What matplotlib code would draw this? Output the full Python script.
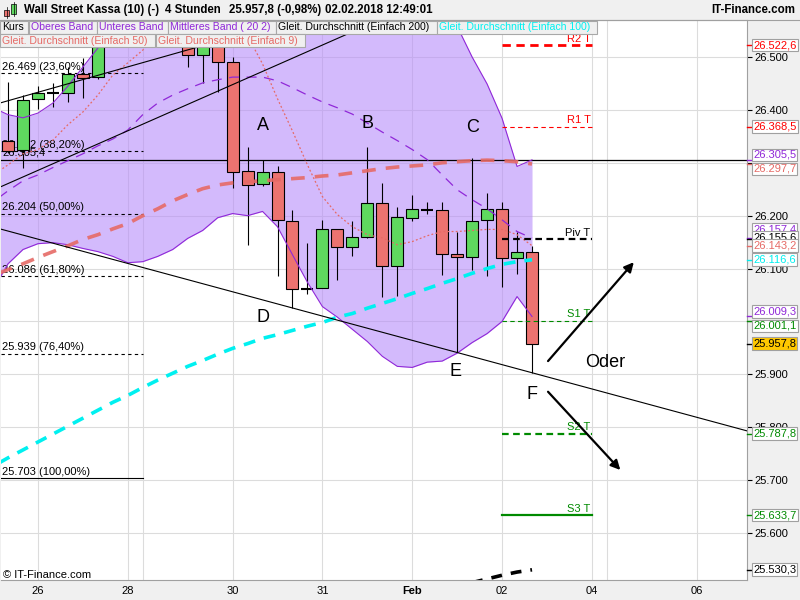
import matplotlib.pyplot as plt
from matplotlib.patches import Rectangle
from matplotlib.lines import Line2D
from matplotlib.transforms import blended_transform_factory

plt.rcParams['font.family'] = ['Liberation Sans', 'DejaVu Sans']

# 4h candles, slot 0 = first candle of Fri 26 Jan (6 slots per day)
slots = list(range(-2, 34))
opens = [26342, 26325, 26421, 26432, 26432, 26468, 26462, 26545, 26575, 26605,
         26630, 26615, 26585, 26504, 26535, 26491, 26285, 26260, 26283, 26189,
         26062, 26064, 26174, 26140, 26160, 26223, 26104, 26196, 26211, 26211,
         26128, 26121, 26192, 26213, 26119, 26132]
highs = [26453, 26428, 26445, 26451, 26481, 26498, 26560, 26590, 26620, 26650,
         26660, 26635, 26600, 26560, 26550, 26500, 26330, 26306, 26294, 26211,
         26149, 26191, 26175, 26189, 26330, 26262, 26217, 26240, 26226, 26225,
         26170, 26309, 26243, 26225, 26170, 26142]
lows = [26318, 26291, 26402, 26406, 26415, 26423, 26458, 26528, 26560, 26585,
        26600, 26570, 26481, 26451, 26434, 26253, 26145, 26256, 26085, 26026,
        26051, 26064, 26079, 26123, 26158, 26047, 26049, 26189, 26204, 26087,
        25942, 26098, 26085, 26066, 26089, 25902]
closes = [26323, 26419, 26432, 26432, 26468, 26460, 26545, 26575, 26605, 26630,
          26615, 26585, 26504, 26535, 26491, 26283, 26258, 26283, 26191, 26062,
          26062, 26175, 26140, 26160, 26223, 26104, 26198, 26213, 26211, 26128,
          26121, 26189, 26213, 26119, 26132, 25957.8]

ind_slots = list(range(-3, 34))
boll_upper = [26404, 26391, 26385, 26394, 26413, 26445, 26481, 26517, 26551, 26613,
              26669, 26703, 26720, 26723, 26730, 26718, 26720, 26724, 26716, 26731,
              26758, 26782, 26802, 26800, 26799, 26788, 26782, 26769, 26737, 26689,
              26629, 26558, 26500, 26449, 26384, 26293, 26305.5]
boll_mid = [26226, 26247, 26266, 26277, 26291, 26304, 26317, 26332, 26345, 26362,
            26391, 26413, 26428, 26440, 26451, 26457, 26462, 26462, 26462, 26455,
            26442, 26428, 26415, 26404, 26392, 26375, 26358, 26342, 26325, 26306,
            26277, 26249, 26230, 26213, 26192, 26170, 26157.4]
boll_lower = [26060, 26109, 26136, 26147, 26149, 26145, 26138, 26132, 26123, 26111,
              26113, 26123, 26136, 26157, 26172, 26196, 26204, 26200, 26208, 26179,
              26126, 26074, 26028, 26008, 25985, 25962, 25934, 25915, 25913, 25923,
              25925, 25940, 25960, 25977, 26000, 26047, 26009.3]
sma9 = [26277, 26296, 26317, 26325, 26343, 26372, 26396, 26428, 26466, 26489,
        26513, 26542, 26568, 26588, 26598, 26592, 26570, 26540, 26487, 26421,
        26360, 26296, 26236, 26202, 26179, 26164, 26158, 26145, 26151, 26162,
        26170, 26170, 26172, 26174, 26174, 26164, 26143.2]
sma50 = [26087, 26098, 26109, 26121, 26132, 26143, 26155, 26164, 26175, 26185,
         26200, 26213, 26228, 26240, 26251, 26258, 26262, 26264, 26266, 26268,
         26270, 26272, 26275, 26277, 26281, 26285, 26289, 26292, 26294, 26296,
         26300, 26302, 26304, 26305, 26304, 26302, 26297.7]
sma100 = [25726, 25742, 25757, 25772, 25787, 25802, 25817, 25832, 25847, 25860,
          25875, 25889, 25902, 25915, 25926, 25938, 25949, 25958, 25968, 25975,
          25983, 25991, 25998, 26008, 26015, 26025, 26034, 26043, 26053, 26062,
          26072, 26081, 26091, 26100, 26108, 26113, 26116.6]
sma200_slots = [29, 30, 31, 32, 33]
sma200 = [25506, 25513, 25520, 25526, 25530.3]

fib_levels = [26469, 26322, 26204, 26086, 25939, 25703]
fib_pct = ['23,60%', '38,20%', '50,00%', '61,80%', '76,40%', '100,00%']
hline_value = 26305.4

pivot_names = ['R2 T', 'R1 T', 'Piv T', 'S1 T', 'S2 T', 'S3 T']
pivot_values = [26522.6, 26368.5, 26155.6, 26001.1, 25787.8, 25633.7]

# trend lines (slot, price) pairs
trend_down = [(-2.54, 26175), (47.36, 25793)]
trend_up1 = [(-2.54, 26254), (15.5, 26479)]
trend_up2 = [(-2.54, 26413), (9.95, 26513)]

date_slots = [0, 6, 13, 19, 25, 31, 37, 44]
date_labels = ['26', '28', '30', '31', 'Feb', '02', '04', '06']
extra_grid_slots = [7, 38]

wave_labels = ['A', 'B', 'C', 'D', 'E', 'F', 'Oder']
wave_x = [15.0, 22.0, 29.0, 15.0, 27.9, 33.0, 37.9]
wave_y = [26371, 26375, 26366, 26007, 25906, 25861, 25923]

tag_values = [26522.6, 26368.5, 26305.5, 26297.7, 26157.4, 26155.6, 26143.2,
              26116.6, 26009.3, 26001.1, 25957.8, 25787.8, 25633.7, 25530.3]

RED = '#ff0000'
GREEN = '#008a00'
PURPLE = '#9028d8'
SALMON = '#e66a66'
CYAN = '#00f0f0'
tag_colors = [RED, RED, PURPLE, SALMON, PURPLE, 'black', SALMON,
              CYAN, PURPLE, GREEN, 'black', GREEN, GREEN, 'black']
tag_shift = [0, 0, -5, 5, -9, -2, 0, 0, -5, 5, 0, 0, 0, 0]  # px, negative = up
hidden_ticks = [26300, 26000]  # covered by tags in the original


def de(v, nd=1):
    s = f"{v:,.{nd}f}"
    return s.replace(',', 'X').replace('.', ',').replace('X', '.')


W, H = 800, 600
fig = plt.figure(figsize=(8, 6), dpi=100, facecolor='#f0f0f0')
ax = fig.add_axes([1 / W, 20 / H, 746 / W, 560 / H])
ax.set_facecolor('white')
ax.set_xlim(-2.47, 47.36)
ax.set_ylim(25511, 26570)

# grid
for s in date_slots + extra_grid_slots:
    ax.axvline(s, color='#dcdcdc', lw=0.8, zorder=0)
for v in range(25600, 26600, 100):
    ax.axhline(v, color='#dcdcdc', lw=0.8, zorder=0)

# bollinger
ax.fill_between(ind_slots, boll_lower, boll_upper, color='#b78cfa', alpha=0.6,
                lw=0, zorder=1)
ax.plot(ind_slots, boll_upper, color=PURPLE, lw=0.8, zorder=4)
ax.plot(ind_slots, boll_lower, color=PURPLE, lw=0.8, zorder=4)
ax.plot(ind_slots, boll_mid, color=PURPLE, lw=0.9, ls=(0, (8, 6)), zorder=4)

# fibonacci
for lev, pct in zip(fib_levels, fib_pct):
    ls = '-' if pct == '100,00%' else (0, (3, 3))
    ax.plot([-2.47, 7.0], [lev, lev], color='black', lw=0.8, ls=ls, zorder=2)
    ax.annotate(f"{de(lev, 0)} ({pct})", xy=(-2.47, lev), xytext=(1, 1),
                textcoords='offset points', fontsize=8, va='bottom', zorder=2.5)
ax.axhline(hline_value, color='black', lw=0.9, zorder=2)
ax.annotate(de(hline_value), xy=(-2.47, hline_value), xytext=(1, 2),
            textcoords='offset points', fontsize=8, va='bottom', zorder=2.5)

# candles
for s, o, h, l, c in zip(slots, opens, highs, lows, closes):
    ax.vlines(s, l, h, color='black', lw=0.8, zorder=3)
    if o == c:
        ax.hlines(o, s - 0.4, s + 0.4, color='black', lw=1.5, zorder=3)
        continue
    col = '#5fd85f' if c > o else '#ec7370'
    ax.add_patch(Rectangle((s - 0.4, min(o, c)), 0.8, abs(c - o), fc=col,
                           ec='black', lw=0.8, zorder=3))

# moving averages
ax.plot(ind_slots, sma9, color=SALMON, lw=0.9, ls=(0, (1.5, 1.8)), zorder=4)
ax.plot(ind_slots, sma50, color=SALMON, lw=2.6, ls=(0, (3.8, 2.8)), alpha=0.9,
        zorder=4)
ax.plot(ind_slots, sma100, color=CYAN, lw=2.6, ls=(0, (3.3, 2.5)), zorder=4)
ax.plot(sma200_slots, sma200, color='black', lw=2.6, ls=(0, (3, 2.5)), zorder=4)

# trend lines
for pts in (trend_down, trend_up1, trend_up2):
    ax.axline(pts[0], pts[1], color='black', lw=0.8, zorder=5)

# pivots
piv_style = {'R2 T': (RED, 2.0, (0, (3, 2))), 'R1 T': (RED, 0.8, (0, (4, 3))),
             'Piv T': ('black', 1.6, (0, (3, 2))), 'S1 T': (GREEN, 0.8, (0, (4, 3))),
             'S2 T': (GREEN, 1.6, (0, (3, 2))), 'S3 T': (GREEN, 1.6, '-')}
for name, val in zip(pivot_names, pivot_values):
    col, lw, ls = piv_style[name]
    ax.plot([31, 37], [val, val], color=col, lw=lw, ls=ls, zorder=5)
    ax.annotate(name, xy=(37, val), xytext=(-1, 1), textcoords='offset points',
                ha='right', va='bottom', fontsize=8, color=col, zorder=6)

# arrows and wave labels
arr = dict(arrowstyle='-|>', color='black', lw=1.6, mutation_scale=14,
           shrinkA=0, shrinkB=0)
ax.annotate('', xy=(39.8, 26112), xytext=(34.07, 25925), arrowprops=arr, zorder=6)
ax.annotate('', xy=(38.9, 25719), xytext=(34.07, 25867), arrowprops=arr, zorder=6)
for t, x, y in zip(wave_labels, wave_x, wave_y):
    ax.text(x, y, t, fontsize=13, ha='center', va='center', zorder=6)

# axes styling
for sp in ax.spines.values():
    sp.set_color('#a0a0a0')
ax.spines['left'].set_visible(False)
ax.yaxis.tick_right()
yt = list(range(25600, 26600, 100))
ax.set_yticks(yt)
ax.set_yticklabels(['' if v in hidden_ticks else de(v, 0) for v in yt])
ax.tick_params(axis='y', labelsize=8, length=3.5, pad=1.5, color='black')
ax.set_xticks(date_slots)
ax.set_xticklabels(date_labels)
ax.tick_params(axis='x', labelsize=8, length=0, pad=4)
for lab in ax.get_xticklabels():
    if lab.get_text() == 'Feb':
        lab.set_fontweight('bold')

# right value tags
trans = blended_transform_factory(ax.transAxes, ax.transData)
for v, col, sh in zip(tag_values, tag_colors, tag_shift):
    ax.add_line(Line2D([1.0, 1.0 + 5 / 746], [v, v], transform=trans, color=col,
                       lw=1, clip_on=False, zorder=7))
    fc = '#ffc800' if v == closes[-1] else 'white'
    ax.annotate(de(v), xy=(1.0, v), xycoords=trans, xytext=(4.3, -sh * 0.72),
                textcoords='offset points', ha='left', va='center', fontsize=8,
                color=col, zorder=8, annotation_clip=False,
                bbox=dict(boxstyle='square,pad=0.12', fc=fc, ec='#a0a0a0', lw=0.8))

# header and legend (figure pixels)
def fx(x):
    return x / W


def fy(y):
    return 1 - y / H


fig.add_artist(Line2D([0, 1], [fy(20), fy(20)], color='#a0a0a0', lw=0.8))
fig.add_artist(Rectangle((fx(4), fy(16)), 5 / W, 6 / H, fc='#ec7370', ec='black', lw=0.5))
fig.add_artist(Rectangle((fx(11), fy(14)), 5 / W, 10 / H, fc='#5fd85f', ec='black', lw=0.5))
fig.add_artist(Line2D([fx(6.5), fx(6.5)], [fy(18), fy(7)], color='black', lw=0.5))
fig.add_artist(Line2D([fx(13.5), fx(13.5)], [fy(16), fy(2)], color='black', lw=0.5))
hdr = [(24, 'Wall Street Kassa (10) (-)'), (165, '4 Stunden'),
       (229, '25.957,8 (-0,98%)'), (325, '02.02.2018 12:49:01')]
for x, t in hdr:
    fig.text(fx(x), fy(10), t, fontsize=8.3, fontweight='bold', va='center')
fig.text(fx(795), fy(10), 'IT-Finance.com', fontsize=8.3, fontweight='bold',
         va='center', ha='right')

legend_rows = [
    (21, 34, [(0, 28, 'Kurs', 'black'), (29, 97, 'Oberes Band', PURPLE),
              (97, 168, 'Unteres Band', PURPLE),
              (168, 276, 'Mittleres Band ( 20 2)', PURPLE),
              (276, 437, 'Gleit. Durchschnitt (Einfach 200)', 'black'),
              (437, 597, 'Gleit. Durchschnitt (Einfach 100)', CYAN)]),
    (34, 47, [(0, 155, 'Gleit. Durchschnitt (Einfach 50)', SALMON),
              (156, 305, 'Gleit. Durchschnitt (Einfach 9)', SALMON)]),
]
for y0, y1, boxes in legend_rows:
    for x0, x1, t, col in boxes:
        fig.add_artist(Rectangle((fx(x0), fy(y1)), (x1 - x0) / W, (y1 - y0) / H,
                                 fc='#f0f0f0', ec='#a8a8a8', lw=0.8))
        fig.text(fx(x0 + 2), fy((y0 + y1) / 2), t, fontsize=7.6, color=col,
                 va='center')

fig.text(fx(3), fy(575), '\u00a9 IT-Finance.com', fontsize=8, va='center')

fig.savefig('out.png', dpi=100, facecolor=fig.get_facecolor())
